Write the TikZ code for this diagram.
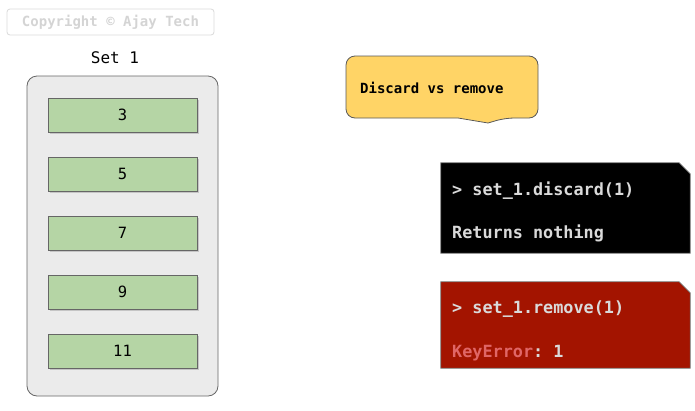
\documentclass[tikz,border=0pt]{standalone}
\usepackage{fontspec}
\setmonofont{DejaVu Sans Mono}
\usetikzlibrary{shapes, shadows, positioning}
\definecolor{boxgray}{HTML}{EBEBEB}
\definecolor{elemgreen}{HTML}{B5D5A5}
\definecolor{noteyellow}{HTML}{FFD466}
\definecolor{errred}{HTML}{A31400}
\definecolor{keyred}{HTML}{E06666}
\definecolor{codegray}{HTML}{DADADA}
\tikzset{
  setbox/.style={
    rectangle, draw=black!60, fill=boxgray, rounded corners=10pt, line width=0.8pt,
  },
  elem/.style={
    rectangle, draw=black!60, fill=elemgreen, line width=0.8pt,
    minimum width=149pt, minimum height=34pt, inner sep=0pt,
    font=\fontsize{15.5}{15.5}\selectfont\ttfamily,
    drop shadow={shadow xshift=1.5pt, shadow yshift=-2pt, opacity=0.35},
  },
  note/.style={
    draw=black!65, fill=noteyellow, line width=0.8pt,
  },
  code/.style={
    rectangle, minimum width=249pt, inner sep=0pt,
  },
  codeedge/.style={
    draw=black!55, line width=0.8pt,
  },
  codetext/.style={
    anchor=base west, inner sep=0pt, text=codegray,
    font=\fontsize{16.8}{16.8}\selectfont\ttfamily\bfseries,
  },
  tlabel/.style={
    font=\fontsize{16}{16}\selectfont\ttfamily,
  }
}

\begin{document}
\begin{tikzpicture}[x=1pt, y=-1pt]
  \useasboundingbox (0,0) rectangle (695,410);

  % watermark
  \node[draw=black!15, rounded corners=3pt, line width=0.8pt,
        minimum width=207pt, minimum height=26pt, inner sep=0pt,
        text=black!17, font=\fontsize{14}{14}\selectfont\ttfamily\bfseries]
        (copy) at (110.5,22) {Copyright © Ajay Tech};

  % the set and its elements
  \node[tlabel] (title) at (115,58) {Set 1};
  \node[setbox, minimum width=191pt, minimum height=320pt] (set) at (122.5,236) {};

  \node[elem] (e3)  at (122.5,115) {3};
  \node[elem] (e5)  at (122.5,174) {5};
  \node[elem] (e7)  at (122.5,233) {7};
  \node[elem] (e9)  at (122.5,292) {9};
  \node[elem] (e11) at (122.5,351) {11};

  % note
  \draw[note] (346,87) [rounded corners=9pt] -- (346,56) -- (538,56) -- (538,118)
    -- (505,118) [sharp corners] -- (488,123) -- (458,118)
    [rounded corners=9pt] -- (346,118) -- cycle;
  \node[anchor=base west, inner sep=0pt,
        font=\fontsize{14}{14}\selectfont\ttfamily\bfseries]
        (notetext) at (360,93) {Discard vs remove};

  % discard
  \node[code, minimum height=90pt] (discard) at (565.5,208) {};
  \draw[codeedge, fill=black] (discard.north west) -- ([xshift=-11pt]discard.north east)
    -- ([yshift=-11pt]discard.north east) -- (discard.south east)
    -- (discard.south west) -- cycle;
  \node[codetext] (d1) at (452,195) {> set\_1.discard(1)};
  \node[codetext] (d2) at (452,238) {Returns nothing};

  % remove
  \node[code, minimum height=86pt] (remove) at (565.5,325) {};
  \draw[codeedge, fill=errred] (remove.north west) -- ([xshift=-11pt]remove.north east)
    -- ([yshift=-11pt]remove.north east) -- (remove.south east)
    -- (remove.south west) -- cycle;
  \node[codetext] (r1) at (452,313) {> set\_1.remove(1)};
  \node[codetext] (r2) at (452,357) {\textcolor{keyred}{KeyError}: 1};

\end{tikzpicture}
\end{document}
